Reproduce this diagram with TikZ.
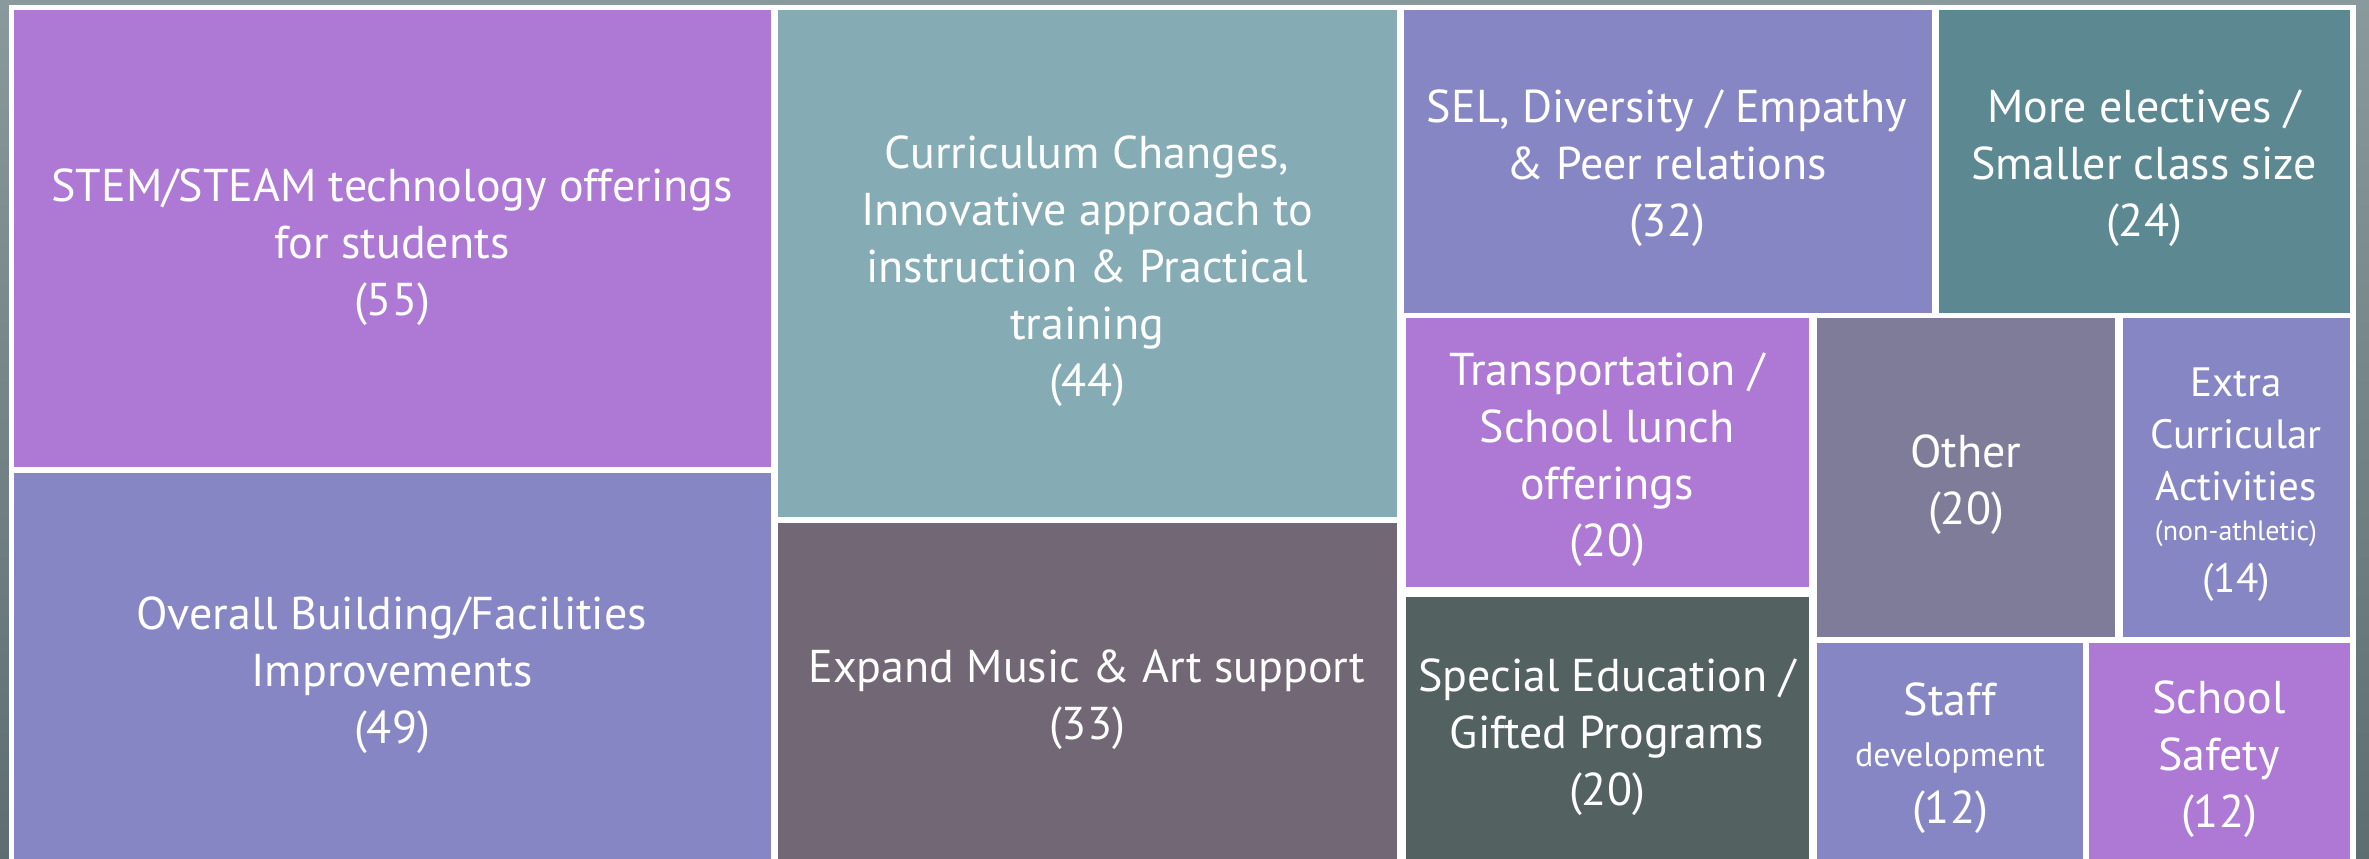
\documentclass[tikz,border=0pt]{standalone}
\usepackage{fontspec}
\setmainfont{PT Sans}
\definecolor{bgTop}{HTML}{8A999C}
\definecolor{bgBot}{HTML}{5E6D70}
\definecolor{cPurple}{HTML}{AD79D5}
\definecolor{cLav}{HTML}{8786C5}
\definecolor{cTeal}{HTML}{85ACB5}
\definecolor{cMauve}{HTML}{726774}
\definecolor{cDTeal}{HTML}{5B8891}
\definecolor{cSlate}{HTML}{536161}
\definecolor{cGray}{HTML}{7F7C9A}
\tikzset{
  lbl/.style={text=white, align=center, inner sep=0pt, font=\fontsize{46}{57}\selectfont},
  lblsm/.style={text=white, align=center, inner sep=0pt, font=\fontsize{41}{52}\selectfont}
}
\begin{document}
\begin{tikzpicture}[x=1pt,y=-1pt]
\useasboundingbox (0,0) rectangle (2369,859);
\shade[top color=bgTop, bottom color=bgBot] (0,0) rectangle (2369,859);
\fill[white] (9,5) rectangle (2356,859);
% tiles
\fill[cPurple] (14,10) rectangle (771,467);
\fill[cLav]    (14,473) rectangle (771,859);
\fill[cTeal]   (778,10) rectangle (1397,517);
\fill[cMauve]  (778,523) rectangle (1397,859);
\fill[cLav]    (1404,10) rectangle (1932,313);
\fill[cDTeal]  (1939,10) rectangle (2350,313);
\fill[cPurple] (1406,318) rectangle (1809,587);
\fill[cSlate]  (1406,597) rectangle (1809,859);
\fill[cGray]   (1817,318) rectangle (2115,637);
\fill[cLav]    (2123,318) rectangle (2350,637);
\fill[cLav]    (1817,643) rectangle (2083,859);
\fill[cPurple] (2089,643) rectangle (2350,859);
% labels
\node[lbl] (stem) at (392,247) {STEM/STEAM technology offerings\\for students\\(55)};
\node[lbl] (bldg) at (392,675) {Overall Building/Facilities\\Improvements\\(49)};
\node[lbl] (curr) at (1087,271) {Curriculum Changes,\\Innovative approach to\\instruction \& Practical\\training\\(44)};
\node[lbl] (music) at (1087,700) {Expand Music \& Art support\\(33)};
\node[lbl] (sel) at (1667,168) {SEL, Diversity / Empathy\\\& Peer relations\\(32)};
\node[lbl] (elect) at (2144,168) {More electives /\\Smaller class size\\(24)};
\node[lbl] (trans) at (1607,460) {Transportation /\\School lunch\\offerings\\(20)};
\node[lbl] (sped) at (1607,737) {Special Education /\\Gifted Programs\\(20)};
\node[lbl] (other) at (1966,485) {Other\\(20)};
\node[lblsm] (extra) at (2236,485) {Extra\\Curricular\\Activities\\[-12pt]{\fontsize{28}{34}\selectfont (non-athletic)}\\(14)};
\node[lbl] (staff) at (1950,758) {Staff\\[-6pt]{\fontsize{34}{40}\selectfont development}\\(12)};
\node[lbl] (safety) at (2219,759) {School\\Safety\\(12)};
\end{tikzpicture}
\end{document}
